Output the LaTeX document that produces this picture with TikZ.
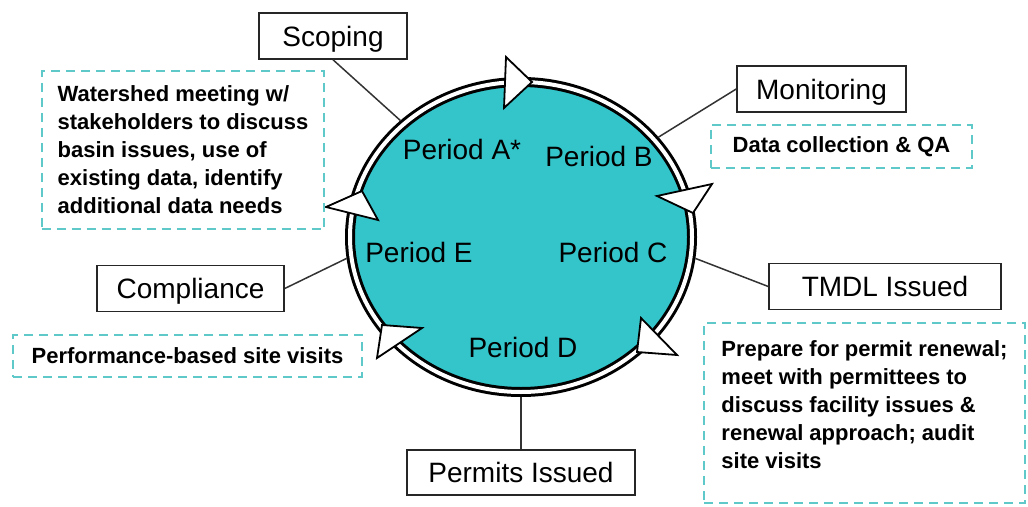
\documentclass[tikz,border=0pt]{standalone}
\usepackage{fontspec}
\setmainfont{Liberation Sans}
\usetikzlibrary{shapes.geometric}

\definecolor{cyclefill}{RGB}{51,197,201}
\definecolor{notecol}{RGB}{95,200,200}

\begin{document}
\begin{tikzpicture}[x=1pt, y=-1pt]
    % Styles
    \tikzstyle{stage} = [rectangle, draw=black!85, line width=1.5pt, minimum height=46pt, inner sep=0pt, text height=20pt, text depth=0pt, font=\fontsize{28}{30}\selectfont]
    \tikzstyle{note} = [rectangle, draw=notecol, line width=2pt, dash pattern=on 9pt off 6pt, align=left, inner xsep=16pt, font=\bfseries\fontsize{22}{28}\selectfont]
    \tikzstyle{period} = [inner sep=0pt, text height=20pt, text depth=0pt, font=\fontsize{28}{30}\selectfont]
    \tikzstyle{link} = [draw=black!80, line width=1.5pt]
    \tikzstyle{tip} = [fill=white, draw=black, line width=1.8pt]

    \useasboundingbox (0,0) rectangle (1028,506);

    % Cycle
    \node[ellipse, minimum width=342pt, minimum height=310pt, inner sep=0pt, outer sep=5pt, fill=cyclefill] (cycle) at (521,237) {};
    \draw[line width=10pt] (cycle.center) ellipse [x radius=171, y radius=155];
    \draw[white, line width=4pt] (cycle.center) ellipse [x radius=171, y radius=155];

    % Direction marks on the ring
    \draw[tip] (506,57) -- (532,82) -- (504,108) -- cycle;
    \draw[tip] (657,196) -- (712,184) -- (693,213) -- cycle;
    \draw[tip] (326,207) -- (362,191) -- (378,220) -- cycle;
    \draw[tip] (382,325) -- (422,328) -- (377,358) -- cycle;
    \draw[tip] (641,318) -- (677,355) -- (637,352) -- cycle;

    % Periods
    \node[period] (pA) at (462,149) {Period A*};
    \node[period] (pB) at (599,156) {Period B};
    \node[period] (pC) at (613,252) {Period C};
    \node[period] (pD) at (523,347) {Period D};
    \node[period] (pE) at (419,252) {Period E};

    % Stages
    \node[stage, minimum width=148pt] (scoping) at (333,36) {Scoping};
    \node[stage, minimum width=169pt] (monitoring) at (821.5,89) {Monitoring};
    \node[stage, minimum width=232pt] (tmdl) at (885,286.5) {TMDL Issued};
    \node[stage, minimum width=187pt] (compliance) at (190.5,288.5) {Compliance};
    \node[stage, minimum width=228pt, minimum height=45pt] (permits) at (521,472.5) {Permits Issued};

    % Notes
    \node[note, minimum width=282pt, minimum height=158pt] (scopingnote) at (183,150) {Watershed meeting w/\\stakeholders to discuss\\basin issues, use of\\existing data, identify\\additional data needs};
    \node[note, minimum width=261pt, minimum height=43pt] (monitoringnote) at (841.5,146.5) {Data collection \& QA};
    \node[note, minimum width=349pt, minimum height=42pt] (compliancenote) at (187.5,356) {Performance-based site visits};
    \node[note, minimum width=321pt, minimum height=180pt] (tmdlnote) at (864.5,413) {Prepare for permit renewal;\\meet with permittees to\\discuss facility issues \&\\renewal approach; audit\\site visits\\[-12pt]\mbox{}};

    % Links
    \draw[link] (scoping.south) -- (cycle.136);
    \draw[link] (monitoring.west) -- (cycle.36);
    \draw[link] (tmdl.west) -- (cycle.-7);
    \draw[link] (compliance.east) -- (cycle.187);
    \draw[link] (permits.north) -- (cycle.south);
\end{tikzpicture}
\end{document}
